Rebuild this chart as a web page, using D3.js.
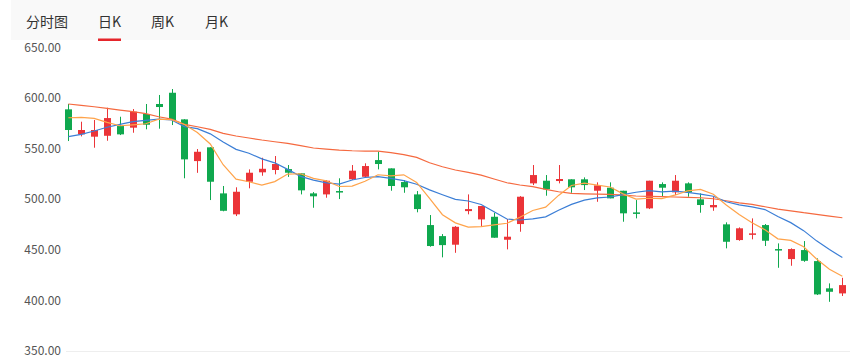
<!DOCTYPE html>
<html>
<head>
<meta charset="utf-8">
<script src="https://cdn.jsdelivr.net/npm/d3@7"></script>
<style>
  html, body { margin: 0; padding: 0; background: #fff; }
  svg { display: block; }
  text { font-family: "Noto Sans CJK SC", "Noto Sans", sans-serif; }
</style>
</head>
<body>
<svg id="chart" width="850" height="359"></svg>
<script>
// ---- data ----
const tabs = ["分时图", "日K", "周K", "月K"];
const activeTab = "日K";
const yTicks = [350, 400, 450, 500, 550, 600, 650];

const opens = [588.7,564,561.7,562.6,572.2,570.6,584.1,594,605.1,578.8,537.6,551.2,505.7,485,517.2,526.5,528.8,529.7,525.5,505.7,504.7,508,519.6,522.1,538.6,530.4,516.9,504.7,474.4,463.5,455,488.2,480,482.6,459.9,475.4,515.6,518.2,517.9,519.6,519.6,508.3,511.3,508.3,486.9,490.9,514.9,506.7,515.6,499.8,491.9,475.1,459.6,464.8,474.4,450.7,440.8,449.7,438.8,411.9,406.9];
const closes = [568.3,568.3,568.3,580.1,564,586.4,573.5,591,578.2,539.3,546.8,517.2,488.5,507.3,526.1,530,534.7,526.1,508.7,502.8,518.2,506.7,528.1,532.7,534.7,513,511.7,490.2,453.7,454.6,472.7,490.2,493.2,461.9,462.9,502.4,523.8,509.7,519.9,511.7,513.9,513.6,500.8,486,486,518.2,511.3,518.2,506.7,494.2,494.2,457.9,471.2,466.2,458.9,449.7,450.7,439.1,405.9,408.5,415.1];
const highs = [594,576.5,578.2,590.3,581.4,589,594,602.9,608.8,579,549.5,551.2,513,511.7,529.4,540.9,542.6,533.7,525.5,507,518.9,520.6,533.7,535.4,546.8,530.4,518.9,508,484.3,465.5,473.4,504.7,493.2,486.6,480.4,503,533.7,523.8,533.7,519.6,521.5,516.6,516.6,508.3,499.1,518.2,516.6,523.8,516.6,505.7,502.4,477.1,472.1,481,475.4,456.3,451.4,458.6,441.5,416.8,422.3];
const lows = [557.4,562,550.8,557.7,563.3,565.6,569,569.6,573.2,520.6,526,499.1,488,483.3,510.7,523.1,524.5,522,504.7,491.5,501.4,500.1,518.9,521.5,529.4,508.3,506.3,487,453,442.5,447,485,473.4,461.9,450.4,467.8,513.9,503.4,515.6,506.3,509,497.4,500.8,477.7,481,490.2,502.4,504,502.4,486.6,488.5,451.4,458.9,460.3,453.7,432.2,434.2,438.1,405.3,398.6,404.3];

const ma5 = [580.4,580.7,579.8,575.9,572.5,573.4,574.5,579.0,578.6,573.7,565.8,554.5,534.0,519.8,517.2,513.8,517.3,524.8,525.1,520.5,518.1,512.5,512.9,517.7,524.1,523.0,524.0,516.5,500.7,484.6,476.6,472.3,472.9,474.5,476.2,482.1,488.8,492.1,503.7,513.5,515.8,513.8,512.0,505.2,500.1,500.9,500.5,503.9,508.1,509.7,504.9,494.2,484.8,476.7,469.7,460.8,459.3,452.9,440.9,430.8,423.9];
const ma10 = [561.7,564.0,567.3,571.0,573.9,576.5,577.9,579.1,578.2,571.7,569.6,564.5,556.5,549.2,545.4,539.8,535.9,529.4,522.5,518.8,516.0,514.9,518.9,521.4,522.3,520.6,518.3,514.7,509.2,504.4,499.8,498.2,494.7,487.6,480.4,479.4,480.6,482.5,489.1,494.8,499.0,501.3,502.1,504.5,506.8,508.4,507.1,508.0,506.6,504.9,502.9,497.4,494.4,492.4,489.7,482.9,476.8,468.9,458.8,450.2,442.3];
const maLong = [594.0,592.7,591.3,589.7,588.0,586.4,584.4,581.4,579.1,573.9,571.5,568.9,565.0,562.4,560.4,558.4,556.7,555.1,552.8,550.5,549.5,548.5,547.8,547.5,547.5,545.9,543.9,541.3,536.0,532.0,528.8,526.5,523.8,519.9,516.2,514.0,512.3,509.7,507.3,505.7,505.3,505.0,504.7,504.0,503.1,502.8,502.4,502.1,501.8,501.4,500.4,498.4,496.4,494.9,492.5,490.2,488.5,486.6,485.0,483.3,481.6];

// ---- drawing ----
const svg = d3.select("#chart");
const UP = "#eb3438", DOWN = "#0fa84e";

// header bar
svg.append("rect").attr("x", 11).attr("y", 0).attr("width", 839).attr("height", 40).attr("fill", "#f9f9f9");
const tabX = d3.scalePoint().domain(tabs).range([26, 205]);
const tabPos = {"分时图": 26, "日K": 98, "周K": 151, "月K": 205};
svg.selectAll("text.tab").data(tabs).join("text")
  .attr("class", "tab")
  .attr("x", d => tabPos[d])
  .attr("y", 27)
  .attr("font-size", 14)
  .attr("fill", "#333")
  .text(d => d);
svg.append("rect").attr("x", tabPos[activeTab]).attr("y", 38.5).attr("width", 23).attr("height", 2.5).attr("fill", "#e5252b");

// scales
const idx = d3.range(closes.length);
const x = d3.scaleBand().domain(idx).range([61.9, 848.8]).paddingInner(0.45).paddingOuter(0.225);
const cx = i => x(i) + x.bandwidth() / 2;
const y = d3.scaleLinear().domain([350, 650]).range([351, 47.3]);

// bottom baseline
svg.append("line").attr("x1", 66).attr("x2", 850).attr("y1", Math.round(y(350)) + 0.5).attr("y2", Math.round(y(350)) + 0.5)
  .attr("stroke", "#eeeeee").attr("stroke-width", 1);

// y axis
const yAxis = d3.axisLeft(y).tickValues(yTicks).tickFormat(d3.format(".2f")).tickSize(0).tickPadding(0);
const gy = svg.append("g").attr("transform", "translate(61,0)").call(yAxis);
gy.select(".domain").remove();
gy.selectAll("text").attr("font-size", 12).attr("fill", "#555").attr("font-family", "'Noto Sans', 'Open Sans', sans-serif");

// candles
const candles = svg.append("g").selectAll("g").data(idx).join("g");
candles.append("line")
  .attr("x1", i => Math.round(cx(i)) + 0.5).attr("x2", i => Math.round(cx(i)) + 0.5)
  .attr("y1", i => y(highs[i])).attr("y2", i => y(lows[i]))
  .attr("stroke", i => closes[i] >= opens[i] ? UP : DOWN).attr("stroke-width", 1);
candles.append("rect")
  .attr("x", i => Math.round(cx(i)) + 0.5 - 3.5)
  .attr("width", 7)
  .attr("y", i => y(Math.max(opens[i], closes[i])))
  .attr("height", i => Math.max(1.5, Math.abs(y(opens[i]) - y(closes[i]))))
  .attr("fill", i => closes[i] >= opens[i] ? UP : DOWN);

// moving averages
const lineGen = arr => d3.line().x(i => cx(i)).y(i => y(arr[i]))(idx);
[[maLong, "#f5693f"], [ma10, "#3b7ed6"], [ma5, "#ffa34a"]].forEach(([arr, col]) => {
  svg.append("path").attr("d", lineGen(arr)).attr("fill", "none").attr("stroke", col).attr("stroke-width", 1.2);
});
</script>
</body>
</html>
